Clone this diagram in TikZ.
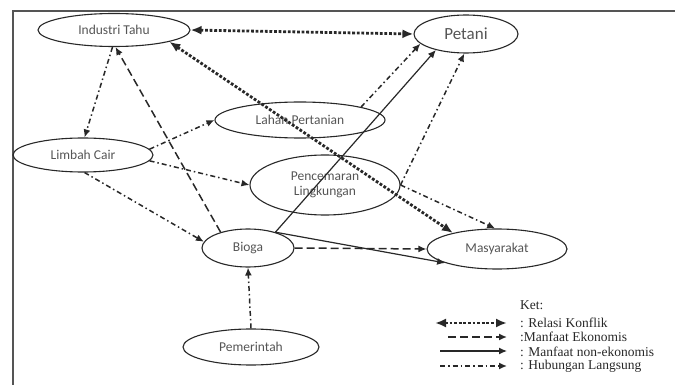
\documentclass[tikz,border=0pt]{standalone}
\usepackage{fontspec}
\setmainfont{Carlito}
\newfontfamily\legfont{Liberation Serif}
\usetikzlibrary{arrows.meta,shapes.geometric}
\definecolor{txtgray}{RGB}{85,85,85}
\definecolor{linegray}{RGB}{40,40,40}
\tikzset{
  ell/.style={ellipse, draw=linegray, line width=1.1pt, inner sep=0pt, text=txtgray, font=\fontsize{13.5}{15}\selectfont},
  conflict/.style={draw=linegray, line width=2.8pt, dash pattern=on 2.8pt off 1.8pt, {Latex[length=11pt,width=9pt]}-{Latex[length=11pt,width=9pt]}},
  econ/.style={draw=linegray, line width=1.5pt, dash pattern=on 8pt off 4pt, -{Latex[length=8pt,width=7pt]}},
  nonecon/.style={draw=linegray, line width=1.2pt, -{Latex[length=8pt,width=7pt]}},
  direct/.style={draw=linegray, line width=1.5pt, dash pattern=on 5pt off 3pt on 1.5pt off 3pt, -{Latex[length=8pt,width=7pt]}},
  legtext/.style={anchor=west, inner sep=0pt, font=\legfont\fontsize{13.5}{14}\selectfont, text=linegray}
}
\begin{document}
\begin{tikzpicture}[x=1pt,y=-1pt]
\useasboundingbox (0,0) rectangle (675,385);
\draw[draw=txtgray, line width=1.6pt] (13,385) -- (13,11) -- (675,11);
% nodes
\node[ell, minimum width=152pt, minimum height=33pt] (ind) at (114,30) {Industri Tahu};
\node[ell, minimum width=104pt, minimum height=38pt, font=\fontsize{17}{19}\selectfont] (pet) at (466,34) {Petani};
\node[ell, minimum width=170pt, minimum height=36pt] (lah) at (300,120) {Lahan Pertanian};
\node[ell, minimum width=140pt, minimum height=34pt] (lim) at (83,155) {Limbah Cair};
\node[ell, minimum width=150pt, minimum height=60pt, align=center] (pen) at (325,185) {Pencemaran\\Lingkungan};
\node[ell, minimum width=92pt, minimum height=38pt] (bio) at (248,248) {Bioga};
\node[ell, minimum width=140pt, minimum height=40pt] (mas) at (497,249) {Masyarakat};
\node[ell, minimum width=136pt, minimum height=36pt] (pem) at (251,347) {Pemerintah};
% connectors
\draw[conflict] (ind.east) -- (pet.west);
\draw[conflict] (ind.-12) -- (mas.160);
\draw[direct] (ind.-95) -- (lim.85);
\draw[econ] (bio.150) -- (ind.-85);
\draw[direct] (lim.5) -- (lah.west);
\draw[direct] (lim.-5) -- (pen.west);
\draw[direct] (lim.-85) -- (bio.172);
\draw[direct] (lah.12) -- (pet.192);
\draw[nonecon] (bio.30) -- (pet.208);
\draw[direct] (pen.east) -- (pet.-95);
\draw[direct] (pen.east) -- (mas.95);
\draw[econ] (bio.east) -- (mas.west);
\draw[nonecon] (bio.30) -- (mas.195);
\draw[direct] (pem.north) -- (bio.south);
% legend
\node[legtext] (ket) at (520,305) {Ket:};
\node[legtext] (l1) at (520,323) {: Relasi Konflik};
\node[legtext] (l2) at (520,337) {:Manfaat Ekonomis};
\node[legtext] (l3) at (520,352) {: Manfaat non-ekonomis};
\node[legtext] (l4) at (520,366) {: Hubungan Langsung};
\coordinate (a1) at (435,323); \coordinate (b1) at (507,323);
\coordinate (a2) at (448,337); \coordinate (b2) at (507,337);
\coordinate (a3) at (440,351); \coordinate (b3) at (507,351);
\coordinate (a4) at (440,366); \coordinate (b4) at (507,366);
\draw[conflict] (a1) -- (b1);
\draw[econ] (a2) -- (b2);
\draw[nonecon] (a3) -- (b3);
\draw[direct] (a4) -- (b4);
\end{tikzpicture}
\end{document}
